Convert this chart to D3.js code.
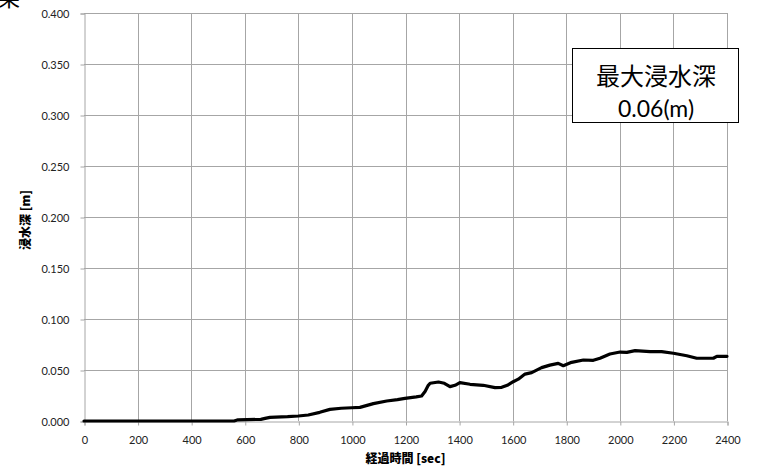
<!DOCTYPE html>
<html>
<head>
<meta charset="utf-8">
<script src="https://cdn.jsdelivr.net/npm/d3@7"></script>
<style>
  html, body { margin: 0; padding: 0; background: #fff; }
  svg { display: block; }
  .tick text { font-family: Lato, "Open Sans", sans-serif; font-size: 11px; fill: #222; }
</style>
</head>
<body>
<svg id="chart" width="757" height="467"></svg>
<script>
// Elapsed time (sec) and inundation depth (m)
const times = [0, 560, 575, 660, 676, 694, 760, 800, 837, 880, 918, 960, 999, 1030, 1080, 1130, 1170,
  1198, 1240, 1260, 1273, 1285, 1292, 1323, 1345, 1366, 1385, 1403, 1441, 1490, 1534, 1559, 1580,
  1602, 1621, 1646, 1671, 1708, 1739, 1770, 1789, 1820, 1864, 1901, 1926, 1963, 2001, 2026, 2057,
  2113, 2156, 2200, 2250, 2287, 2349, 2362, 2400];
const depths = [0, 0, 0.0012, 0.0016, 0.0026, 0.0036, 0.0042, 0.0049, 0.0059, 0.0085, 0.0114, 0.0125, 0.013, 0.0134, 0.017, 0.0196, 0.021,
  0.0222, 0.0236, 0.0245, 0.029, 0.035, 0.037, 0.0382, 0.037, 0.0337, 0.035, 0.0376, 0.036, 0.035, 0.0327, 0.033, 0.035,
  0.0385, 0.041, 0.046, 0.0474, 0.0523, 0.0548, 0.0565, 0.0542, 0.0575, 0.0598, 0.0595, 0.0615, 0.0657, 0.0676, 0.0673, 0.069,
  0.068, 0.068, 0.0664, 0.064, 0.0615, 0.0615, 0.0634, 0.0634];

const xTicks = [0, 200, 400, 600, 800, 1000, 1200, 1400, 1600, 1800, 2000, 2200, 2400];
const yTicks = [0, 0.05, 0.1, 0.15, 0.2, 0.25, 0.3, 0.35, 0.4];

const xTitle = "経過時間 [sec]";
const yTitle = "浸水深 [m]";
const boxLines = ["最大浸水深", "0.06(m)"];

const svg = d3.select("#chart");
const plotL = 84, plotR = 727, plotT = 13, plotB = 421;

const x = d3.scaleLinear().domain([0, 2400]).range([plotL, plotR]);
const y = d3.scaleLinear().domain([0, 0.4]).range([plotB, plotT]);

const gridColor = "#a6a6a6";

// grid
svg.append("g").selectAll("line").data(xTicks.slice(1)).join("line")
  .attr("x1", d => Math.round(x(d)) + 0.5).attr("x2", d => Math.round(x(d)) + 0.5)
  .attr("y1", plotT).attr("y2", plotB)
  .attr("stroke", gridColor).attr("stroke-width", 1);
svg.append("g").selectAll("line").data(yTicks.slice(1)).join("line")
  .attr("x1", plotL).attr("x2", plotR)
  .attr("y1", d => Math.round(y(d)) + 0.5).attr("y2", d => Math.round(y(d)) + 0.5)
  .attr("stroke", gridColor).attr("stroke-width", 1);

// axes
const xAxis = svg.append("g").attr("transform", `translate(0.5,${plotB + 0.5})`)
  .call(d3.axisBottom(x).tickValues(xTicks).tickFormat(d3.format("d")).tickSize(4).tickPadding(11));
const yAxis = svg.append("g").attr("transform", `translate(${plotL + 0.5},0.5)`)
  .call(d3.axisLeft(y).tickValues(yTicks).tickFormat(d3.format(".3f")).tickSize(4).tickPadding(11));
[xAxis, yAxis].forEach(g => {
  g.selectAll("path.domain").attr("stroke", gridColor);
  g.selectAll(".tick line").attr("stroke", gridColor);
});

// series line
const line = d3.line().x((d, i) => x(times[i])).y(d => y(d));
svg.append("path").datum(depths)
  .attr("d", line)
  .attr("fill", "none").attr("stroke", "#000").attr("stroke-width", 3.2)
  .attr("stroke-linejoin", "round").attr("stroke-linecap", "round");

// axis titles
svg.append("text").attr("x", (plotL + plotR) / 2).attr("y", 463)
  .attr("text-anchor", "middle")
  .attr("font-family", "'Noto Sans CJK JP', sans-serif").attr("font-weight", 900).attr("font-size", 12)
  .text(xTitle);
svg.append("text").attr("transform", `translate(30,220) rotate(-90)`)
  .attr("text-anchor", "middle")
  .attr("font-family", "'Noto Sans CJK JP', sans-serif").attr("font-weight", 900).attr("font-size", 12)
  .text(yTitle);

// chart title (runs off the top edge)
svg.append("text").attr("x", 20).attr("y", 6)
  .attr("text-anchor", "end")
  .attr("font-family", "'Noto Sans CJK JP', sans-serif").attr("font-size", 22)
  .text("結果");

// annotation box
const box = svg.append("g");
box.append("rect").attr("x", 572.5).attr("y", 48.5).attr("width", 166).attr("height", 74)
  .attr("fill", "#fff").attr("stroke", "#000").attr("stroke-width", 1);
box.append("text").attr("x", 656).attr("y", 85).attr("text-anchor", "middle")
  .attr("font-family", "'Noto Sans CJK JP', sans-serif").attr("font-size", 24)
  .text(boxLines[0]);
box.append("text").attr("x", 656).attr("y", 117).attr("text-anchor", "middle")
  .attr("font-family", "Lato, 'Noto Sans', sans-serif").attr("font-size", 23)
  .text(boxLines[1]);
</script>
</body>
</html>
